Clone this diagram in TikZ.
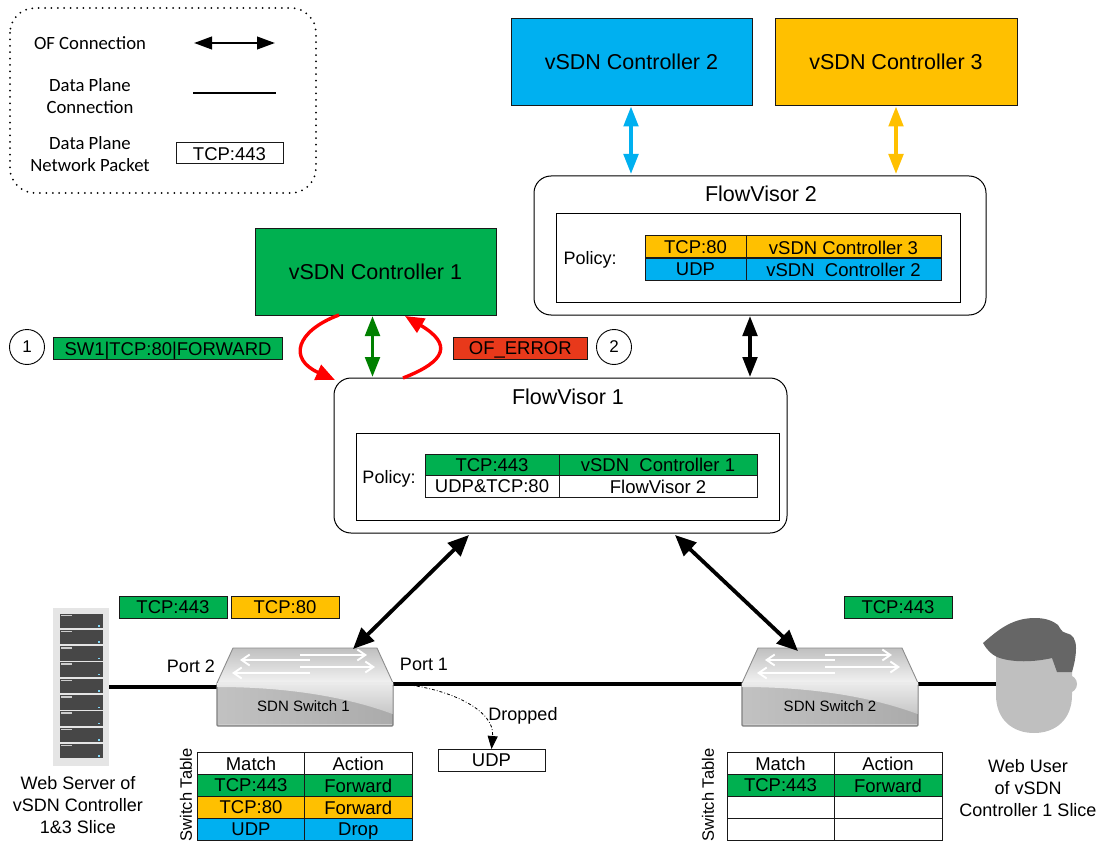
\documentclass[tikz,border=0pt]{standalone}
\usepackage{fontspec}
\setmainfont{Liberation Sans}
\newfontfamily\legendfont{Carlito}
\usetikzlibrary{arrows.meta,calc}
\definecolor{cgreen}{HTML}{00B050}
\definecolor{cblue}{HTML}{00B0F0}
\definecolor{cyellow}{HTML}{FFC000}
\definecolor{cred}{HTML}{E8391B}
\definecolor{darkgreen}{HTML}{008000}
\newcommand\fs[1]{\fontsize{#1}{#1}\selectfont}
% \Bx[options]{name}{x0}{y0}{x1}{y1}{text}
\newcommand\Bx[7][]{\node[boxcell,#1,minimum width={(#5-#3)*1pt},minimum height={(#6-#4)*1pt}] (#2) at ({(#3+#5)/2},{(#4+#6)/2}) {\raisebox{-0.7pt}{#7}};}
\tikzset{
  x=1pt,y=-1pt,
  boxcell/.style={draw=black!90,line width=1pt,inner sep=0pt,outer sep=0pt,font=\fs{18.5},text depth=0pt,align=center},
  ctrl/.style={line width=0.8pt,font=\fs{21.5}},
  panel/.style={draw=black,line width=1pt,rounded corners=17pt},
  policy/.style={draw=black,line width=1pt},
  lbl/.style={inner sep=0pt,font=\fs{18},align=center},
  legtxt/.style={inner sep=0pt,align=center,font=\legendfont\fs{18.7}},
  oflink/.style={line width=3.6pt,{Triangle[length=20pt,width=14.5pt]}-{Triangle[length=20pt,width=14.5pt]}},
  oflong/.style={line width=3.8pt,{Triangle[length=21pt,width=18pt]}-{Triangle[length=21pt,width=18pt]}},
  dataplane/.style={line width=3.4pt},
  redarc/.style={draw=red,line width=3.4pt,-{Triangle[length=19pt,width=16pt]}},
  bladeunit/.style={fill=black!72!white,draw=none},
  swarrow/.style={draw=white,line width=1.9pt,-{Straight Barb[length=8pt,width=11pt]}},
  pics/sdnswitch/.style={code={
    \shade[top color=black!25,bottom color=black!5,draw=black!45,line width=0.9pt,line join=round]
      (16,-35) -- (160,-35) -- (176,0) -- (0,0) -- cycle;
    \shade[left color=black!24,right color=black!33,draw=black!50,line width=1.1pt,rounded corners=1pt]
      (0,0) rectangle (176,43);
    \shade[top color=black!8,bottom color=black!22] (0.6,0) -- (175.5,0) -- (175.5,31) .. controls (130,14) and (70,4) .. (0.6,4) -- cycle;
    \fill[white!92!black] (0.6,-1) rectangle (175.5,1.5);
    \draw[white!80!black,line width=0.7pt] (1.5,41.6) -- (174.5,41.6);
    \draw[swarrow] (93,-23) -- (23,-23);
    \draw[swarrow] (83,-28) -- (150,-28);
    \draw[swarrow] (83,-16) -- (158,-16);
    \draw[swarrow] (93,-10) -- (15,-10);
  }}
}
\begin{document}
\begin{tikzpicture}
\useasboundingbox (0,0) rectangle (1102,842);

% legend
\draw[line width=2pt,line cap=round,dash pattern=on 0pt off 6.4pt,rounded corners=25pt] (10,8) rectangle (316,193);
\node[legtxt] (lega) at (90,43) {OF Connection};
\node[legtxt] (legb) at (90,96) {Data Plane\\[3.5pt]Connection};
\node[legtxt] (legc) at (90,154) {Data Plane\\[3.5pt]Network Packet};
\coordinate (la1) at (194,43); \coordinate (la2) at (275,43);
\coordinate (lb1) at (193,93); \coordinate (lb2) at (276,93);
\draw[line width=2.5pt,{Triangle[length=18pt,width=12.5pt]}-{Triangle[length=18pt,width=12.5pt]}] (la1) -- (la2);
\draw[line width=2.5pt] (lb1) -- (lb2);
\Bx{legp}{176}{143}{283}{164}{TCP:443}

% controllers
\Bx[ctrl,fill=cblue]{c2}{511}{18}{752}{105}{vSDN Controller 2}
\Bx[ctrl,fill=cyellow]{c3}{775}{18}{1017}{105}{vSDN Controller 3}
\Bx[ctrl,fill=cgreen]{c1}{255}{228}{496}{315}{vSDN Controller 1}

% FlowVisor 2
\draw[panel] (534,176) rectangle (986,315);
\draw[policy] (556,214) rectangle (960,302);
\node[lbl,font=\fs{21.5}] (fv2t) at (761,194) {FlowVisor 2};
\node[lbl] (pol2) at (590,260) {Policy:};
\Bx[fill=cyellow]{t2a}{645}{236}{746}{258}{TCP:80}
\Bx[fill=cyellow]{t2b}{746}{236}{941}{258}{vSDN Controller 3}
\Bx[fill=cblue]{t2c}{645}{258}{746}{280}{UDP}
\Bx[fill=cblue]{t2d}{746}{258}{941}{280}{vSDN\ \ Controller 2}

% FlowVisor 1
\draw[panel] (334,378) rectangle (787,533);
\draw[policy] (356,433) rectangle (779,520);
\node[lbl,font=\fs{21.5}] (fv1t) at (568,397) {FlowVisor 1};
\node[lbl] (pol1) at (389,479) {Policy:};
\Bx[fill=cgreen]{t1a}{425}{454}{559}{475}{TCP:443}
\Bx[fill=cgreen]{t1b}{559}{454}{757}{475}{vSDN\ \ Controller 1}
\Bx[fill=white]{t1c}{425}{475}{559}{497}{UDP\&TCP:80}
\Bx[fill=white]{t1d}{559}{475}{757}{497}{FlowVisor 2}

% OF connections
\coordinate (a1) at (631,106.5); \coordinate (a2) at (631,174);
\coordinate (b1) at (896,106.5); \coordinate (b2) at (896,174);
\coordinate (d1) at (750,316); \coordinate (d2) at (750,377);
\coordinate (e1) at (372.5,316); \coordinate (e2) at (372.5,377);
\coordinate (f1) at (469,535); \coordinate (f2) at (353,649);
\coordinate (g1) at (675,535); \coordinate (g2) at (798,651);

% red arcs
\coordinate (r1) at (339,315); \coordinate (r2) at (335,380);
\coordinate (s1) at (403,378); \coordinate (s2) at (405,316);
\draw[redarc] (r1) .. controls (296,331) and (288,359) .. (r2);
\draw[redarc] (s1) .. controls (447,361) and (452,344) .. (s2);

% message labels
\node[draw,circle,line width=0.9pt,minimum size=35pt,inner sep=0pt,font=\fs{17}] (n1) at (27,347) {1};
\node[draw,circle,line width=0.9pt,minimum size=35pt,inner sep=0pt,font=\fs{17}] (n2) at (614,347) {2};
\Bx[fill=cgreen]{m1}{53.5}{337}{282.5}{359}{SW1|TCP:80|FORWARD}
\Bx[fill=cred]{m2}{453.5}{337}{587}{359}{OF\_ERROR}

% data plane lines
\coordinate (srvport) at (109,687);
\coordinate (sw1l) at (217,687); \coordinate (sw1r) at (393,684);
\coordinate (sw2l) at (742,684); \coordinate (sw2r) at (917,684);
\coordinate (usr) at (997,684);
\draw[dataplane] (srvport) -- (sw1l);
\draw[dataplane] (sw1r) -- (sw2l);
\draw[dataplane] (sw2r) -- (usr);

% server
\fill[black!10] (53,608) rectangle (108.5,766);
\foreach \i in {0,...,8} {
  \fill[bladeunit] (60,{613.5+16.3*\i}) rectangle (103,{628+16.3*\i});
  \fill[white!80!black] (61,{614.5+16.3*\i}) rectangle (72,{616+16.3*\i});
  \fill[cblue!50!white] (98,{625+16.3*\i}) rectangle (100,{626.5+16.3*\i});
}
\node[lbl,text depth=0pt] (srvt) at (78,805) {Web Server of\\[4pt]vSDN Controller\\[4pt]1\&3 Slice};

% switches
\pic at (217,683) {sdnswitch};
\pic at (742,683) {sdnswitch};
\node[lbl,font=\fs{15}] (sw1) at (303.5,706) {SDN Switch 1};
\node[lbl,font=\fs{15}] (sw2) at (830,706) {SDN Switch 2};
\node[lbl] (p2) at (191,666) {Port 2};
\node[lbl] (p1) at (424,664) {Port 1};

% OF arrows drawn above the switches
\draw[oflink,cblue] (a1) -- (a2);
\draw[oflink,cyellow] (b1) -- (b2);
\draw[oflink,black] (d1) -- (d2);
\draw[oflink,darkgreen] (e1) -- (e2);
\draw[oflong] (f1) -- (f2);
\draw[oflong] (g1) -- (g2);

% packets on top
\Bx[fill=cgreen]{pk1}{119}{596}{227}{618}{TCP:443}
\Bx[fill=cyellow]{pk2}{231}{596}{339}{618}{TCP:80}
\Bx[fill=cgreen]{pk3}{844}{596}{952}{618}{TCP:443}

% dropped
\Bx{udp}{438}{749}{545}{771}{UDP}
\node[lbl] (dr) at (523,716) {Dropped};
\coordinate (dr0) at (409,685);
\draw[line width=0.8pt,dash dot,-{Triangle[length=13pt,width=10pt]}] (dr0) .. controls (450,690) and (495,710) .. (udp.north);

% switch table 1
\node[lbl,rotate=90,font=\fs{16.5}] (st1) at (186,795) {Switch Table};
\Bx{h1a}{197.5}{752}{304.5}{774}{Match}
\Bx{h1b}{304.5}{752}{412}{774}{Action}
\Bx[fill=cgreen]{r1a}{197.5}{774}{304.5}{796}{TCP:443}
\Bx[fill=cgreen]{r1b}{304.5}{774}{412}{796}{Forward}
\Bx[fill=cyellow]{r2a}{197.5}{796}{304.5}{818}{TCP:80}
\Bx[fill=cyellow]{r2b}{304.5}{796}{412}{818}{Forward}
\Bx[fill=cblue]{r3a}{197.5}{818}{304.5}{840}{UDP}
\Bx[fill=cblue]{r3b}{304.5}{818}{412}{840}{Drop}

% switch table 2
\node[lbl,rotate=90,font=\fs{16.5}] (st2) at (708,795) {Switch Table};
\Bx{h2a}{727}{752}{834}{774}{Match}
\Bx{h2b}{834}{752}{942}{774}{Action}
\Bx[fill=cgreen]{u1a}{727}{774}{834}{796}{TCP:443}
\Bx[fill=cgreen]{u1b}{834}{774}{942}{796}{Forward}
\Bx{u2a}{727}{796}{834}{818}{}
\Bx{u2b}{834}{796}{942}{818}{}
\Bx{u3a}{727}{818}{834}{840}{}
\Bx{u3b}{834}{818}{942}{840}{}

% user
\fill[black!25] (996,650) -- (1072,650) -- (1072,695) .. controls (1072,720) and (1055,733) .. (1034,733) .. controls (1013,733) and (996,720) .. (996,695) -- cycle;
\fill[black!25] (1068,684) circle (9);
\fill[black!60] (983,643) .. controls (998,630) and (1012,618) .. (1035,618) .. controls (1046,618) and (1053,621) .. (1058,625)
  .. controls (1062,632) and (1064,633) .. (1066,633) .. controls (1073,634) and (1076,640) .. (1076,648) .. controls (1076,657) and (1074,665) .. (1072,672) -- (1057,672) -- (1052,658)
  .. controls (1035,662) and (1012,663) .. (997,657) .. controls (991,654) and (987,650) .. (983,643) -- cycle;
\node[lbl] (usrt) at (1028,788) {Web User\\[4pt]of vSDN\\[4pt]Controller 1 Slice};
\end{tikzpicture}
\end{document}
